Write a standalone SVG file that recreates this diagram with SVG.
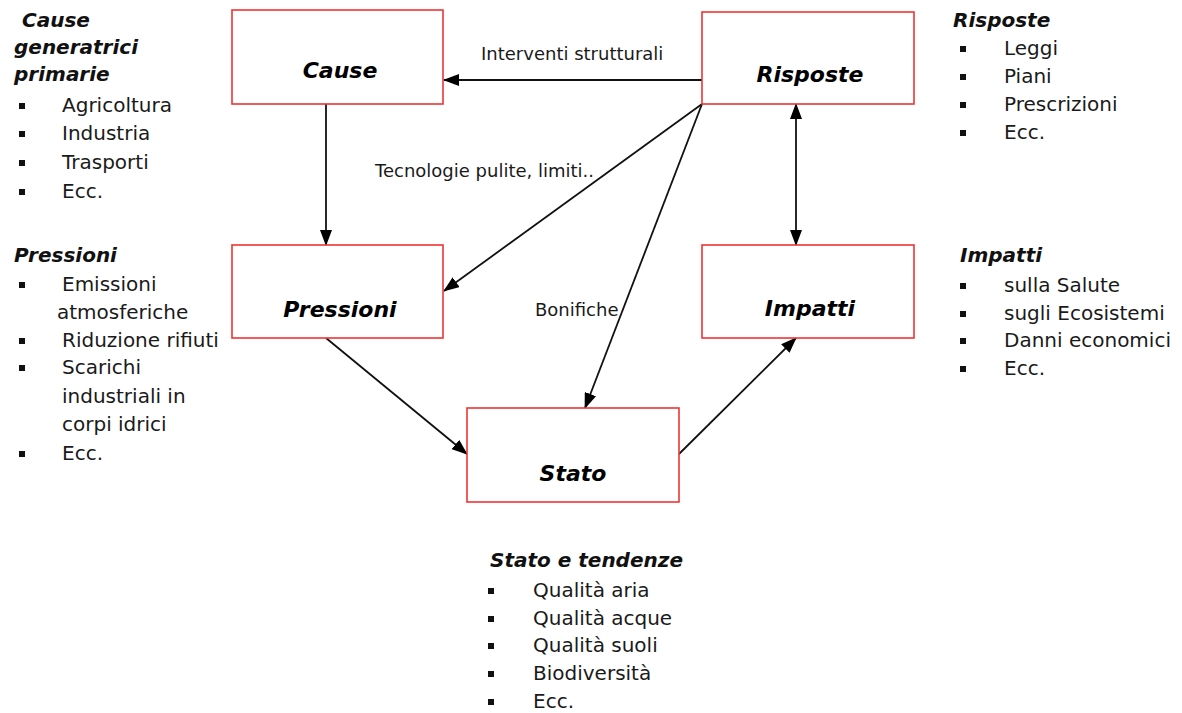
<svg xmlns="http://www.w3.org/2000/svg" width="1182" height="713" viewBox="0 0 1182 713">
<style>
.box{fill:#fff;stroke:#f03434;stroke-width:1.6}
.bl{font-family:"DejaVu Sans",Verdana,sans-serif;font-weight:bold;font-style:italic;font-size:22px;fill:#000;text-anchor:middle}
.hd{font-family:"DejaVu Sans",Verdana,sans-serif;font-weight:bold;font-style:italic;font-size:20px;fill:#111}
.tx{font-family:"DejaVu Sans",Verdana,sans-serif;font-size:20px;fill:#1a1a1a}
.lb{font-family:"DejaVu Sans",Verdana,sans-serif;font-size:18px;fill:#1a1a1a}
.cn{stroke:#111;stroke-width:1.8;fill:none;marker-end:url(#ah)}
.bu{fill:#111}
</style>
<defs>
<marker id="ah" markerUnits="userSpaceOnUse" markerWidth="16" markerHeight="12" viewBox="0 0 16 12" refX="15" refY="6" orient="auto-start-reverse">
<path d="M0,0 L16,6 L0,12 z" fill="#000"/>
</marker>
</defs>
<rect width="1182" height="713" fill="#fff"/>

<g id="connectors">
<line class="cn" x1="702" y1="80" x2="444" y2="80"/>
<line class="cn" x1="326" y1="104" x2="326" y2="245"/>
<line class="cn" x1="702" y1="104" x2="444" y2="291"/>
<line class="cn" x1="702" y1="104" x2="585" y2="408"/>
<line class="cn" x1="796" y1="104" x2="796" y2="245" style="marker-start:url(#ah)"/>
<line class="cn" x1="326" y1="338" x2="467" y2="454"/>
<line class="cn" x1="679" y1="454" x2="796" y2="338"/>
<text class="lb" x="481" y="60">Interventi strutturali</text>
<text class="lb" x="375" y="177">Tecnologie pulite, limiti..</text>
<text class="lb" x="535" y="316">Bonifiche</text>
</g>

<g id="node-cause">
<rect class="box" x="232" y="10" width="211" height="94"/>
<text class="bl" x="340" y="78">Cause</text>
</g>
<g id="node-risposte">
<rect class="box" x="702" y="12" width="212" height="92"/>
<text class="bl" x="810" y="82">Risposte</text>
</g>
<g id="node-pressioni">
<rect class="box" x="232" y="245" width="211" height="93"/>
<text class="bl" x="340" y="317">Pressioni</text>
</g>
<g id="node-impatti">
<rect class="box" x="702" y="245" width="212" height="93"/>
<text class="bl" x="810" y="316">Impatti</text>
</g>
<g id="node-stato">
<rect class="box" x="467" y="408" width="212" height="94"/>
<text class="bl" x="573" y="481">Stato</text>
</g>

<g id="list-cause">
<text class="hd" x="22" y="27">Cause</text>
<text class="hd" x="14" y="54">generatrici</text>
<text class="hd" x="14" y="81">primarie</text>
<rect class="bu" x="19" y="103" width="6" height="6"/>
<text class="tx" x="62" y="112">Agricoltura</text>
<rect class="bu" x="19" y="131" width="6" height="6"/>
<text class="tx" x="62" y="140">Industria</text>
<rect class="bu" x="19" y="160" width="6" height="6"/>
<text class="tx" x="62" y="169">Trasporti</text>
<rect class="bu" x="19" y="189" width="6" height="6"/>
<text class="tx" x="62" y="198">Ecc.</text>
</g>

<g id="list-pressioni">
<text class="hd" x="14" y="262">Pressioni</text>
<rect class="bu" x="19" y="282" width="6" height="6"/>
<text class="tx" x="62" y="291">Emissioni</text>
<text class="tx" x="57" y="319">atmosferiche</text>
<rect class="bu" x="19" y="338" width="6" height="6"/>
<text class="tx" x="62" y="347">Riduzione rifiuti</text>
<rect class="bu" x="19" y="365" width="6" height="6"/>
<text class="tx" x="62" y="374">Scarichi</text>
<text class="tx" x="62" y="403">industriali in</text>
<text class="tx" x="62" y="431">corpi idrici</text>
<rect class="bu" x="19" y="451" width="6" height="6"/>
<text class="tx" x="62" y="460">Ecc.</text>
</g>

<g id="list-risposte">
<text class="hd" x="953" y="27">Risposte</text>
<rect class="bu" x="960" y="46" width="6" height="6"/>
<text class="tx" x="1004" y="55">Leggi</text>
<rect class="bu" x="960" y="74" width="6" height="6"/>
<text class="tx" x="1004" y="83">Piani</text>
<rect class="bu" x="960" y="102" width="6" height="6"/>
<text class="tx" x="1004" y="111">Prescrizioni</text>
<rect class="bu" x="960" y="130" width="6" height="6"/>
<text class="tx" x="1004" y="139">Ecc.</text>
</g>

<g id="list-impatti">
<text class="hd" x="960" y="262">Impatti</text>
<rect class="bu" x="960" y="283" width="6" height="6"/>
<text class="tx" x="1004" y="292">sulla Salute</text>
<rect class="bu" x="960" y="311" width="6" height="6"/>
<text class="tx" x="1004" y="320">sugli Ecosistemi</text>
<rect class="bu" x="960" y="338" width="6" height="6"/>
<text class="tx" x="1004" y="347">Danni economici</text>
<rect class="bu" x="960" y="366" width="6" height="6"/>
<text class="tx" x="1004" y="375">Ecc.</text>
</g>

<g id="list-stato">
<text class="hd" x="490" y="567">Stato e tendenze</text>
<rect class="bu" x="488" y="588" width="6" height="6"/>
<text class="tx" x="533" y="597">Qualità aria</text>
<rect class="bu" x="488" y="616" width="6" height="6"/>
<text class="tx" x="533" y="625">Qualità acque</text>
<rect class="bu" x="488" y="643" width="6" height="6"/>
<text class="tx" x="533" y="652">Qualità suoli</text>
<rect class="bu" x="488" y="671" width="6" height="6"/>
<text class="tx" x="533" y="680">Biodiversità</text>
<rect class="bu" x="488" y="699" width="6" height="6"/>
<text class="tx" x="533" y="708">Ecc.</text>
</g>
</svg>
